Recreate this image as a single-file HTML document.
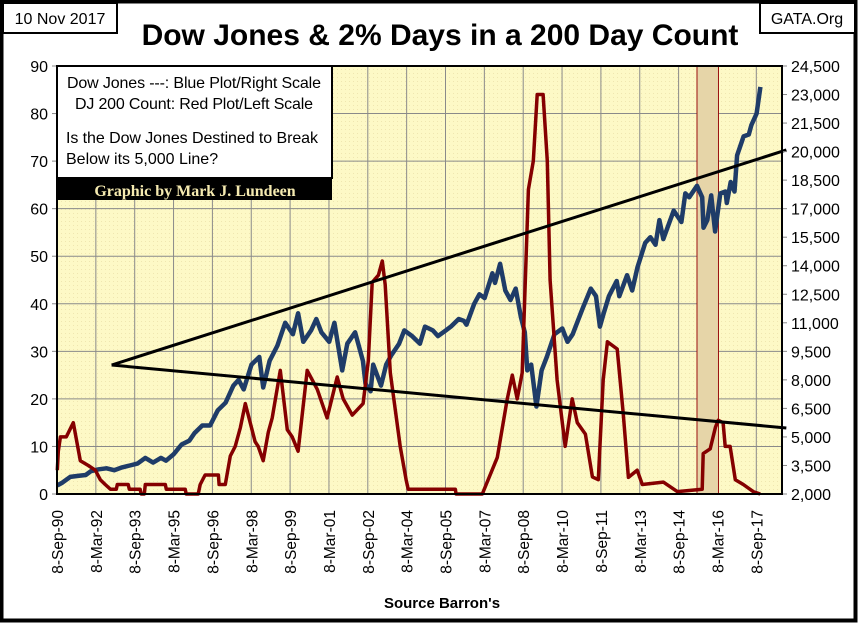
<!DOCTYPE html>
<html><head><meta charset="utf-8"><style>
html,body{margin:0;padding:0;background:#fff;}
svg{display:block;font-family:"Liberation Sans",sans-serif;}
</style></head><body>
<svg id="chart" width="858" height="623" viewBox="0 0 858 623" xmlns="http://www.w3.org/2000/svg">
<defs>
<pattern id="dots" width="4" height="4" patternUnits="userSpaceOnUse"><rect width="4" height="4" fill="#fdf9c6"/><rect x="1" y="1" width="1" height="1" fill="#efe6b0"/></pattern>
</defs>
<rect x="1.5" y="1.5" width="854" height="619" fill="#fff" stroke="#000" stroke-width="4"/>
<rect x="3" y="3" width="114" height="30" fill="#fff" stroke="#000" stroke-width="2"/>
<text x="60" y="24" font-size="16" text-anchor="middle">10 Nov 2017</text>
<rect x="760" y="3" width="95" height="30" fill="#fff" stroke="#000" stroke-width="2"/>
<text x="807" y="24" font-size="16" text-anchor="middle">GATA.Org</text>
<text x="440" y="45" font-size="30" font-weight="bold" text-anchor="middle">Dow Jones &amp; 2% Days in a 200 Day Count</text>
<rect x="57" y="66" width="725" height="428" fill="url(#dots)"/>
<g id="grid"></g>
<g id="band"></g>
<g id="series"></g>
<g id="axes"></g>
<g>
<rect x="57" y="66" width="275" height="112" fill="#fff" stroke="#000" stroke-width="2"/>
<text x="194" y="88" font-size="16" text-anchor="middle" textLength="254">Dow Jones ---: Blue Plot/Right Scale</text>
<text x="194" y="109" font-size="16" text-anchor="middle" textLength="238">DJ 200 Count: Red Plot/Left Scale</text>
<text x="66" y="143" font-size="16" textLength="252">Is the Dow Jones Destined to Break</text>
<text x="66" y="164" font-size="16">Below its 5,000 Line?</text>
<rect x="57" y="178" width="275" height="22" fill="#000"/>
<text x="195" y="196" font-size="16" font-weight="bold" fill="#f5eab0" text-anchor="middle" font-family="Liberation Serif, serif">Graphic by Mark J. Lundeen</text>
</g>
<text x="442" y="608" font-size="15" font-weight="bold" text-anchor="middle">Source Barron's</text>
</svg>
<script>
const countYears=[1990.7,1990.74,1990.82,1991.05,1991.32,1991.59,1991.9,1992.17,1992.36,1992.55,1992.75,1992.98,1993.02,1993.44,1993.48,1993.9,1993.94,1994.06,1994.1,1994.87,1994.91,1995.64,1995.68,1996.14,1996.22,1996.41,1996.92,1996.95,1997.19,1997.38,1997.57,1997.77,1997.96,1998.15,1998.34,1998.46,1998.65,1998.85,1999.0,1999.31,1999.58,1999.77,2000.0,2000.35,2000.74,2001.12,2001.51,2001.74,2002.09,2002.51,2002.71,2002.86,2003.1,2003.25,2003.36,2003.56,2003.94,2004.17,2004.25,2004.33,2006.07,2006.1,2007.11,2007.69,2008.07,2008.27,2008.46,2008.65,2008.89,2009.08,2009.23,2009.46,2009.62,2009.73,2010.0,2010.31,2010.58,2010.78,2011.09,2011.36,2011.59,2011.78,2011.94,2012.32,2012.55,2012.75,2013.09,2013.29,2014.1,2014.64,2015.6,2015.64,2015.91,2016.11,2016.22,2016.41,2016.49,2016.68,2016.88,2017.19,2017.57,2017.84];
const countValues=[5,9,12,12,15,7,6,5,3,2,1,1,2,2,1,1,0,0,2,2,1,1,0,0,2,4,4,2,2,8,10,14,19,15,11,10,7,13,16,26,13.5,12,9,26,22,16,24.6,20,16.6,19,28,44.5,46,49,44,25.5,10,3,1,1,1,0,0,7.7,19.8,25,20,25.5,64,70,84,84,70,45,24,10,20,15,12.6,3.6,3,24,32,30.5,17,3.5,5,2,2.5,0.5,1,8.5,9.5,14,15.5,15,10,10,3,2,0.5,0];
const dowYears=[1990.7,1990.9,1991.2,1991.5,1991.8,1992.0,1992.3,1992.6,1992.9,1993.2,1993.5,1993.8,1994.1,1994.4,1994.7,1994.9,1995.2,1995.5,1995.8,1996.0,1996.3,1996.6,1996.9,1997.2,1997.5,1997.7,1997.9,1998.2,1998.5,1998.65,1998.9,1999.2,1999.5,1999.8,2000.0,2000.2,2000.5,2000.7,2000.9,2001.2,2001.4,2001.7,2001.9,2002.2,2002.5,2002.6,2002.8,2002.9,2003.2,2003.4,2003.6,2003.9,2004.1,2004.4,2004.7,2004.9,2005.2,2005.4,2005.7,2005.9,2006.2,2006.4,2006.5,2006.8,2007.0,2007.2,2007.5,2007.6,2007.8,2008.0,2008.2,2008.4,2008.6,2008.75,2008.85,2009.0,2009.2,2009.4,2009.6,2009.9,2010.2,2010.4,2010.6,2010.8,2011.0,2011.3,2011.5,2011.65,2011.8,2012.0,2012.3,2012.4,2012.7,2012.9,2013.1,2013.4,2013.6,2013.8,2013.95,2014.1,2014.5,2014.8,2014.95,2015.1,2015.4,2015.6,2015.65,2015.8,2015.95,2016.1,2016.3,2016.5,2016.55,2016.7,2016.85,2016.95,2017.2,2017.4,2017.5,2017.7,2017.85];
const dowValues=[2450,2600,2900,2950,3000,3200,3300,3350,3250,3400,3500,3600,3900,3650,3900,3750,4100,4600,4800,5200,5600,5600,6400,6800,7700,8000,7500,8800,9200,7600,9000,9800,11000,10400,11500,10000,10600,11200,10500,10000,11000,8500,9900,10500,9000,7800,7400,8800,7700,8800,9300,9900,10600,10300,9900,10800,10600,10300,10600,10800,11200,11100,10900,12000,12500,12300,13600,13100,14100,12700,12200,12800,11300,10500,8500,8800,6600,8500,9200,10400,10700,10000,10400,11100,11800,12800,12400,10800,11500,12400,13200,12400,13500,12700,13900,15200,15500,15100,16400,15400,16900,16300,17800,17600,18200,17600,16000,16400,17700,15800,17800,17900,17300,18400,17900,19800,20800,20900,21400,22000,23400];
const xTickLabels=["8-Sep-90","8-Mar-92","8-Sep-93","8-Mar-95","8-Sep-96","8-Mar-98","8-Sep-99","8-Mar-01","8-Sep-02","8-Mar-04","8-Sep-05","8-Mar-07","8-Sep-08","8-Mar-10","8-Sep-11","8-Mar-13","8-Sep-14","8-Mar-16","8-Sep-17"];
const leftTicks=[0,10,20,30,40,50,60,70,80,90];
const rightTicks=[2000,3500,5000,6500,8000,9500,11000,12500,14000,15500,17000,18500,20000,21500,23000,24500];
const bandYears=[2015.4,2016.23];
const trendStart=[1992.8,8780];
const trendUpperEnd=[2018.85,20085];
const trendLowerEnd=[2018.85,5470];

const NS="http://www.w3.org/2000/svg";
const L=57,R=782,T=66,B=494;
const x=t=>L+(t-1990.69)*25.9;
const yL=v=>B-v/90*(B-T);
const yR=v=>B-(v-2000)/22500*(B-T);
function mk(tag,attrs,parent){const e=document.createElementNS(NS,tag);for(const k in attrs)e.setAttribute(k,attrs[k]);parent.appendChild(e);return e;}
const grid=document.getElementById('grid'),axes=document.getElementById('axes'),series=document.getElementById('series'),band=document.getElementById('band');
leftTicks.forEach(v=>{
  const g=mk('line',{x1:L,x2:R,y1:yL(v),y2:yL(v),stroke:'#8a8a8a','stroke-width':1},grid);
  
  
  const tk=mk('line',{x1:L-5,x2:L,y1:yL(v),y2:yL(v),stroke:'#888'},axes);
  
  
  const t=mk('text',{x:L-9,y:yL(v)+6,'font-size':16,'text-anchor':'end'},axes);
  t.textContent=v;
  
  
});
rightTicks.forEach(v=>{
  const tk=mk('line',{x1:R,x2:R+5,y1:yR(v),y2:yR(v),stroke:'#888'},axes);
  
  
  const t=mk('text',{x:R+9,y:yR(v)+6,'font-size':16},axes);
  t.textContent=v.toLocaleString('en-US');
  
  
});
xTickLabels.forEach((s,i)=>{
  const yr=1990.69+i*1.5;const px=x(yr);
  if(i>0){const g=mk('line',{x1:px,x2:px,y1:T,y2:B,stroke:'#8a8a8a','stroke-width':1},grid);
  
  }
  const t=mk('text',{transform:`translate(${px+6},510) rotate(-90)`,'font-size':15.5,'text-anchor':'end'},axes);
  t.textContent=s;
  
  
});
const br=mk('rect',{x:x(bandYears[0]),y:T,width:x(bandYears[1])-x(bandYears[0]),height:B-T,fill:'#e6d5a8',stroke:'#9b1010','stroke-width':1},band);


const pts=(xs,ys,fy)=>xs.map((t,i)=>x(t).toFixed(1)+','+fy(ys[i]).toFixed(1)).join(' ');
const blue=mk('polyline',{points:pts(dowYears,dowValues,yR),fill:'none',stroke:'#1f3c68','stroke-width':4.5,'stroke-linejoin':'round'},series);


const red=mk('polyline',{points:pts(countYears,countValues,yL),fill:'none',stroke:'#850000','stroke-width':3.5,'stroke-linejoin':'round'},series);


const tu=mk('line',{x1:x(trendStart[0]),y1:yR(trendStart[1]),x2:x(trendUpperEnd[0]),y2:yR(trendUpperEnd[1]),stroke:'#000','stroke-width':3},series);


const tl=mk('line',{x1:x(trendStart[0]),y1:yR(trendStart[1]),x2:x(trendLowerEnd[0]),y2:yR(trendLowerEnd[1]),stroke:'#000','stroke-width':3},series);


const frame=mk('rect',{x:L,y:T,width:R-L,height:B-T,fill:'none',stroke:'#000','stroke-width':2},axes);


</script>
</body></html>
